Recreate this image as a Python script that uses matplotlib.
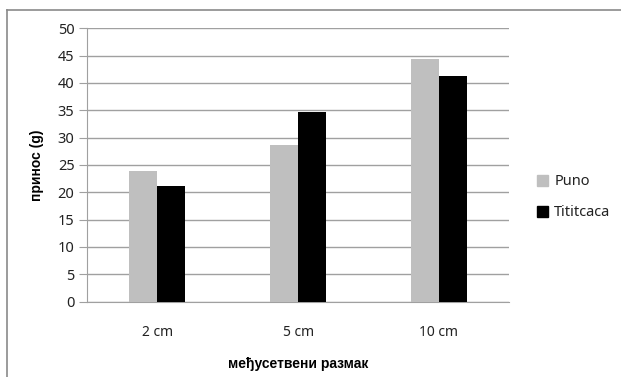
import matplotlib.pyplot as plt
import numpy as np
from matplotlib.lines import Line2D
from matplotlib.patches import Patch

categories = ["2 cm", "5 cm", "10 cm"]
puno = [23.8, 28.6, 44.3]
tititcaca = [21.1, 34.7, 41.3]
series_names = ["Puno", "Tititcaca"]
colors = ["#bfbfbf", "#000000"]

plt.rcParams['font.family'] = ['Noto Sans', 'DejaVu Sans']
label_font = ['Liberation Sans', 'DejaVu Sans']

fig = plt.figure(figsize=(6.21, 3.77), dpi=100)
ax = fig.add_axes([0.140, 0.200, 0.680, 0.725])

x = np.arange(len(categories))
w = 0.2
ax.bar(x - w / 2, puno, w, color=colors[0], zorder=3)
ax.bar(x + w / 2, tititcaca, w, color=colors[1], zorder=3)

ax.set_xlim(-0.5, len(categories) - 0.5)
ax.set_ylim(0, 50)
ax.set_yticks(np.arange(0, 51, 5))
ax.set_xticks(x)
ax.set_xticklabels(categories)
ax.yaxis.grid(True, color="#a0a0a0", linewidth=1.0, zorder=0)
ax.set_axisbelow(True)

for s in ["top", "right"]:
    ax.spines[s].set_visible(False)
ax.spines["left"].set_color("#a0a0a0")
ax.spines["bottom"].set_color("#a0a0a0")
ax.tick_params(axis="y", length=6, color="#a0a0a0", labelsize=10.5, pad=3, labelcolor="#222222")
ax.tick_params(axis="x", length=0, labelsize=10, pad=17, labelcolor="#222222")

ax.set_ylabel("принос (g)", fontsize=10, fontweight="bold", labelpad=10, family=label_font)
ax.set_xlabel("међусетвени размак", fontsize=10, fontweight="bold", labelpad=12, family=label_font)

handles = [Patch(color=c) for c in colors]
fig.legend(handles, series_names, loc="center left", bbox_to_anchor=(0.843, 0.477),
           frameon=False, fontsize=10.5, handlelength=0.8, handleheight=0.8,
           handletextpad=0.4, labelspacing=1.1, labelcolor="#222222")

# outer frame (top and left edges)
fig.add_artist(Line2D([0.011, 1.0], [0.973, 0.973], color="#8a8a8a", linewidth=1.2))
fig.add_artist(Line2D([0.011, 0.011], [0.0, 0.973], color="#8a8a8a", linewidth=1.2))

plt.savefig("out.png", dpi=100)
